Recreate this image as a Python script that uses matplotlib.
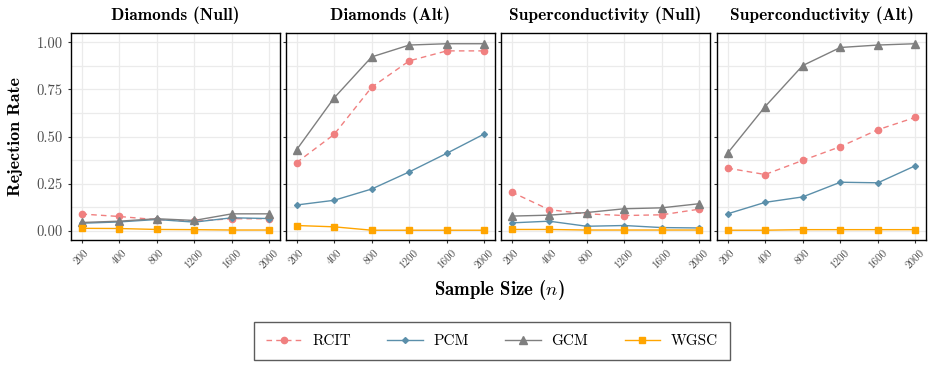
import matplotlib
matplotlib.use("Agg")
from matplotlib import pyplot as plt

sizes = ["200", "400", "800", "1200", "1600", "2000"]
panels = ["Diamonds (Null)", "Diamonds (Alt)", "Superconductivity (Null)", "Superconductivity (Alt)"]
yticks = [0.0, 0.25, 0.5, 0.75, 1.0]
yticklabels = ['0.00', '0.25', '0.50', '0.75', '1.00']

# rejection rates per panel
rcit = [
    [0.088, 0.075, 0.058, 0.050, 0.063, 0.063],
    [0.361, 0.511, 0.762, 0.902, 0.955, 0.955],
    [0.205, 0.111, 0.089, 0.080, 0.084, 0.114],
    [0.332, 0.298, 0.373, 0.446, 0.536, 0.602],
]
pcm = [
    [0.039, 0.046, 0.059, 0.045, 0.068, 0.064],
    [0.136, 0.161, 0.221, 0.312, 0.411, 0.514],
    [0.041, 0.050, 0.023, 0.027, 0.016, 0.014],
    [0.089, 0.150, 0.179, 0.257, 0.254, 0.345],
]
gcm = [
    [0.043, 0.050, 0.063, 0.054, 0.089, 0.089],
    [0.429, 0.705, 0.923, 0.986, 0.993, 0.993],
    [0.077, 0.082, 0.096, 0.116, 0.121, 0.143],
    [0.411, 0.659, 0.877, 0.973, 0.986, 0.993],
]
wgsc = [
    [0.012, 0.011, 0.006, 0.005, 0.003, 0.003],
    [0.027, 0.020, 0.002, 0.002, 0.002, 0.002],
    [0.006, 0.006, 0.003, 0.003, 0.003, 0.003],
    [0.002, 0.002, 0.005, 0.005, 0.005, 0.005],
]

plt.rcParams.update({
    'font.family': 'cmr10',
    'mathtext.fontset': 'cm',
    'axes.unicode_minus': False,
    'axes.formatter.use_mathtext': True,
})

methods = [
    ("RCIT", rcit, dict(color='#F08080', ls=(0, (4, 3)), marker='o', ms=4.5)),
    ("PCM", pcm, dict(color='#5B8FAA', ls='-', marker='D', ms=3.0)),
    ("GCM", gcm, dict(color='#7F7F7F', ls='-', marker='^', ms=5.5)),
    ("WGSC", wgsc, dict(color='#FFA500', ls='-', marker='s', ms=4.8)),
]

fig = plt.figure(figsize=(9.32, 3.68), dpi=100)
lefts = [71, 286, 501, 717]
W, H = 932, 368
x = list(range(len(sizes)))
handles = []
for i, title in enumerate(panels):
    ax = fig.add_axes([lefts[i] / W, 1 - 240 / H, 209 / W, 207 / H])
    for name, vals, st in methods:
        h, = ax.plot(x, vals[i], lw=1.0, label=name, **st)
        if i == 0:
            handles.append(h)
    ax.set_xlim(-0.28, len(sizes) - 1 + 0.28)
    ax.set_ylim(-0.05, 1.05)
    ax.set_xticks(x)
    ax.set_xticklabels(sizes, rotation=45, fontsize=8, color='#4D4D4D')
    ax.set_yticks(yticks)
    ax.set_yticks([0.125, 0.375, 0.625, 0.875], minor=True)
    ax.grid(True, which='both', color='#EBEBEB', lw=0.9)
    ax.set_axisbelow(True)
    ax.tick_params(axis='both', which='major', length=2.5, color='#333333')
    ax.tick_params(axis='y', which='minor', length=0)
    if i == 0:
        ax.set_yticklabels(yticklabels, fontsize=10.5, color='#4D4D4D')
    else:
        ax.set_yticklabels([])
    for s in ax.spines.values():
        s.set_color('black')
        s.set_linewidth(1.0)
    ax.set_title(title, fontfamily='cmb10', fontsize=12.5, pad=9)

fig.text(499 / W, 1 - 290 / H, r'Sample Size ($n$)', fontfamily='cmb10', fontsize=13.5,
         ha='center', va='center')
fig.text(16 / W, 1 - 137 / H, 'Rejection Rate', fontfamily='cmb10', fontsize=13,
         ha='center', va='center', rotation=90)

leg = fig.legend(handles=handles, loc='center', bbox_to_anchor=(492 / W, 1 - 341 / H),
                 ncol=4, fontsize=11, frameon=True, fancybox=False, handlelength=2.3,
                 columnspacing=2.4, handletextpad=0.7, borderpad=0.8)
leg.get_frame().set_edgecolor('#333333')
leg.get_frame().set_linewidth(1.0)

plt.savefig('out.png', dpi=100)
